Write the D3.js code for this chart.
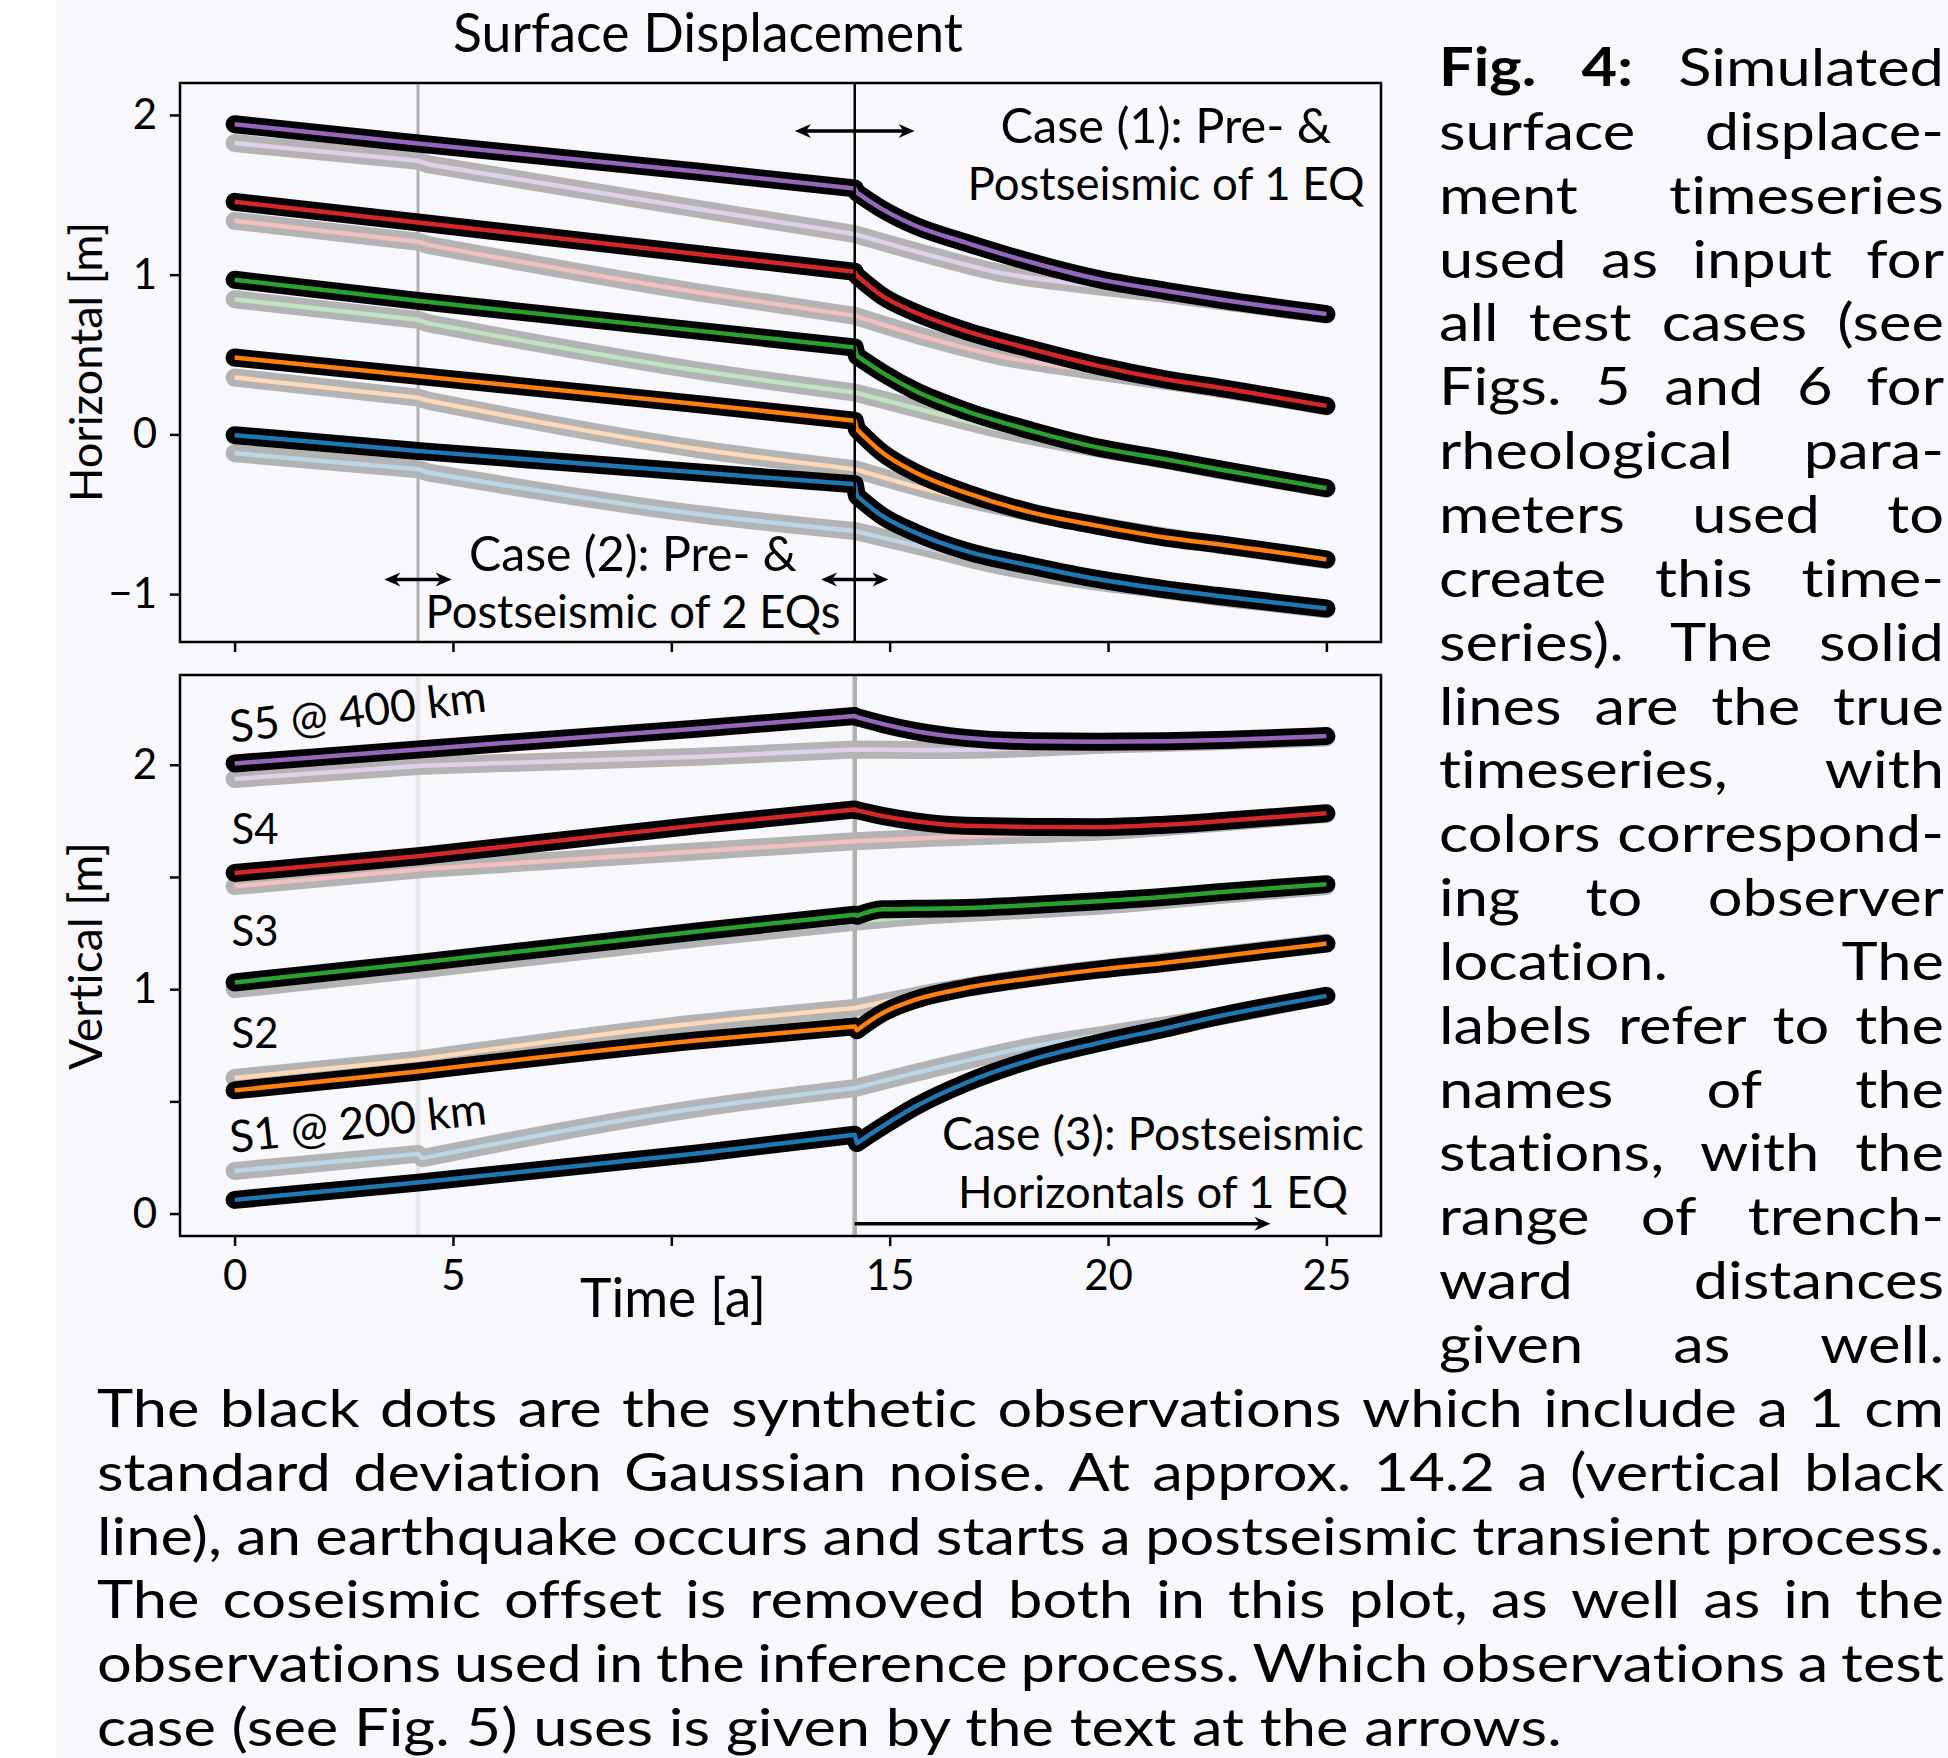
<!DOCTYPE html>
<html>
<head>
<meta charset="utf-8">
<script src="https://cdn.jsdelivr.net/npm/d3@7/dist/d3.min.js"></script>
<style>
  body { margin: 0; background: #ffffff; }
  svg { display: block; }
  text { font-family: Lato, 'Open Sans', sans-serif; fill: #000; font-variant-ligatures: none; font-feature-settings: "liga" 0; }
</style>
</head>
<body>
<svg id="fig" width="1948" height="1758"></svg>
<script>
var stations = ['S1', 'S2', 'S3', 'S4', 'S5'];
var lineColors = ['#1f77b4', '#ff7f0e', '#2ca02c', '#d62728', '#9467bd'];
var paleColors = ['#bcd6e8', '#ffd9b7', '#c0e3c0', '#f3bebf', '#dfd1eb'];

var xTicks = [0, 5, 10, 15, 20, 25];
var xTickLabels = ['0', '5', '', '15', '20', '25'];
var horTicks = [-1, 0, 1, 2];
var horTickLabels = ['\u22121', '0', '1', '2'];
var vertTicks = [0, 0.5, 1, 1.5, 2];
var vertTickLabels = ['0', '', '1', '', '2'];

var quakeTimes = [4.2, 14.2];

// true timeseries: coloured lines over black observation dots
var tMain = [0, 4.2, 10.64, 14.2, 14.25, 14.83, 15.59, 16.74, 18.26, 19.78, 21.31, 22.53, 25];
var horMain = [
    [-0.005, -0.104, -0.239, -0.312, -0.385, -0.511, -0.615, -0.730, -0.824, -0.907, -0.970, -1.012, -1.090],
    [0.481, 0.366, 0.189, 0.085, 0.032, -0.114, -0.239, -0.365, -0.490, -0.573, -0.646, -0.688, -0.783],
    [0.968, 0.836, 0.648, 0.544, 0.491, 0.387, 0.272, 0.147, 0.022, -0.083, -0.156, -0.218, -0.337],
    [1.456, 1.327, 1.128, 1.018, 0.993, 0.867, 0.763, 0.648, 0.533, 0.429, 0.345, 0.293, 0.178],
    [1.942, 1.821, 1.644, 1.540, 1.514, 1.410, 1.306, 1.201, 1.076, 0.972, 0.899, 0.846, 0.753]
];
var vertMain = [
    [0.061, 0.138, 0.269, 0.351, 0.314, 0.388, 0.477, 0.582, 0.686, 0.760, 0.825, 0.879, 0.970],
    [0.549, 0.633, 0.772, 0.834, 0.817, 0.893, 0.953, 1.005, 1.050, 1.087, 1.118, 1.146, 1.203],
    [1.030, 1.117, 1.258, 1.332, 1.327, 1.356, 1.358, 1.362, 1.375, 1.392, 1.412, 1.432, 1.468],
    [1.518, 1.592, 1.731, 1.801, 1.797, 1.772, 1.748, 1.728, 1.723, 1.722, 1.733, 1.748, 1.784],
    [2.006, 2.068, 2.162, 2.217, 2.212, 2.182, 2.150, 2.120, 2.105, 2.103, 2.105, 2.110, 2.128]
];

// two-earthquake timeseries: pale lines over grey dots
var tPaleHor = [0, 4.2, 4.45, 10.64, 14.2, 15.97, 17.5, 19.4, 21.31, 22.53, 25];
var horPale = [
    [-0.118, -0.218, -0.240, -0.500, -0.605, -0.720, -0.820, -0.910, -0.975, -1.018, -1.095],
    [0.356, 0.230, 0.210, -0.093, -0.218, -0.354, -0.448, -0.552, -0.640, -0.690, -0.787],
    [0.846, 0.717, 0.695, 0.398, 0.262, 0.137, 0.032, -0.070, -0.160, -0.222, -0.340],
    [1.337, 1.206, 1.185, 0.888, 0.742, 0.596, 0.491, 0.408, 0.335, 0.287, 0.175],
    [1.824, 1.713, 1.690, 1.410, 1.254, 1.118, 1.013, 0.940, 0.880, 0.836, 0.750]
];
var tPaleVert = [0, 4.2, 4.3, 10.64, 14.2, 15.97, 18.26, 20, 22.53, 25];
var vertPale = [
    [0.190, 0.266, 0.247, 0.470, 0.559, 0.645, 0.745, 0.800, 0.878, 0.972],
    [0.604, 0.686, 0.689, 0.849, 0.916, 0.985, 1.055, 1.095, 1.150, 1.207],
    [1.000, 1.087, 1.089, 1.228, 1.300, 1.330, 1.355, 1.375, 1.420, 1.460],
    [1.459, 1.533, 1.535, 1.615, 1.659, 1.675, 1.690, 1.705, 1.742, 1.780],
    [1.937, 1.994, 1.996, 2.036, 2.068, 2.066, 2.075, 2.090, 2.105, 2.122]
];

var stationLabels = ['S1 @ 200 km', 'S2', 'S3', 'S4', 'S5 @ 400 km'];
var stationLabelY = [0.27, 0.738, 1.191, 1.649, 2.098];
var stationLabelAngle = [-6.5, 0, 0, 0, -7];

var captionSide = [
    'Fig. 4: Simulated',
    'surface displace-',
    'ment timeseries',
    'used as input for',
    'all test cases (see',
    'Figs. 5 and 6 for',
    'rheological para-',
    'meters used to',
    'create this time-',
    'series). The solid',
    'lines are the true',
    'timeseries, with',
    'colors correspond-',
    'ing to observer',
    'location. The',
    'labels refer to the',
    'names of the',
    'stations, with the',
    'range of trench-',
    'ward distances',
    'given as well.'
];
var captionBottom = [
    'The black dots are the synthetic observations which include a 1 cm',
    'standard deviation Gaussian noise. At approx. 14.2 a (vertical black',
    'line), an earthquake occurs and starts a postseismic transient process.',
    'The coseismic offset is removed both in this plot, as well as in the',
    'observations used in the inference process. Which observations a test',
    'case (see Fig. 5) uses is given by the text at the arrows.'
];

var svg = d3.select('#fig');

svg.append('rect')
    .attr('width', 1948)
    .attr('height', 1758)
    .attr('fill', '#ffffff');
svg.append('rect')
    .attr('x', 56)
    .attr('width', 1892)
    .attr('height', 1758)
    .attr('fill', '#f8f7fc');

var x = d3.scaleLinear().domain([-1.25, 26.25]).range([180, 1381]);
var yHor = d3.scaleLinear().domain([-1.3, 2.2]).range([642, 83]);
var yVert = d3.scaleLinear().domain([-0.1, 2.4]).range([1236, 675]);

function fitText(sel, width) {
    var w = sel.node().getComputedTextLength();
    var fs = parseFloat(sel.style('font-size'));
    sel.style('font-size', (fs * width / w) + 'px');
    return sel;
}

// smooth between earthquakes, sharp corner at each earthquake and after its short step
function splitPath(y, times, vals) {
    var line = d3.line()
        .x(function(d) { return x(d[0]); })
        .y(function(d) { return y(d[1]); })
        .curve(d3.curveMonotoneX);
    var pts = times.map(function(t, j) { return [t, vals[j]]; });
    var cuts = [0];
    times.forEach(function(t, j) {
        if (quakeTimes.indexOf(t) >= 0) {
            cuts.push(j);
            if (j + 1 < times.length - 1 && times[j + 1] - t < 0.3) cuts.push(j + 1);
        }
    });
    cuts.push(times.length - 1);
    var d = '';
    for (var k = 0; k < cuts.length - 1; k++) {
        var seg = line(pts.slice(cuts[k], cuts[k + 1] + 1));
        d += (k === 0) ? seg : 'L' + seg.slice(1);
    }
    return d;
}

function seriesPaths(g, y, times, rows, colours, width, cap) {
    g.selectAll(null)
        .data(rows)
        .enter()
        .append('path')
        .attr('d', function(vals) { return splitPath(y, times, vals); })
        .attr('fill', 'none')
        .attr('stroke', function(d, i) { return typeof colours === 'string' ? colours : colours[i]; })
        .attr('stroke-width', width)
        .attr('stroke-linecap', cap)
        .attr('stroke-linejoin', 'round');
}

function quakeLine(g, y, t, colour, width) {
    var r = y.range();
    g.append('line')
        .attr('x1', x(t)).attr('x2', x(t))
        .attr('y1', r[1]).attr('y2', r[0])
        .attr('stroke', colour)
        .attr('stroke-width', width);
}

function arrowHead(g, xt, yy, dir) {
    var L = 16, w = 7, n = 11;
    g.append('path')
        .attr('d', 'M' + xt + ',' + yy +
            'L' + (xt - dir * L) + ',' + (yy - w) +
            'L' + (xt - dir * n) + ',' + yy +
            'L' + (xt - dir * L) + ',' + (yy + w) + 'Z')
        .attr('fill', '#000');
}

function arrow(g, y, t1, t2, v, both) {
    var x1 = x(t1), x2 = x(t2), yy = y(v);
    g.append('line')
        .attr('x1', both ? x1 + 8 : x1).attr('x2', x2 - 8)
        .attr('y1', yy).attr('y2', yy)
        .attr('stroke', '#000')
        .attr('stroke-width', 3.5);
    arrowHead(g, x2, yy, 1);
    if (both) arrowHead(g, x1, yy, -1);
}

function note(lines, cx, baselines, widths) {
    lines.forEach(function(s, i) {
        var t = svg.append('text')
            .attr('x', cx)
            .attr('y', baselines[i])
            .attr('text-anchor', 'middle')
            .style('font-size', '46px')
            .text(s);
        fitText(t, widths[i]);
    });
}

function drawAxes(y, yTicks, yLabels, showX) {
    var r = y.range();
    var gx = svg.append('g')
        .attr('transform', 'translate(0,' + r[0] + ')')
        .call(d3.axisBottom(x)
            .tickValues(xTicks)
            .tickSize(10)
            .tickPadding(14)
            .tickFormat(function(d, i) { return showX ? xTickLabels[i] : ''; }));
    var gy = svg.append('g')
        .attr('transform', 'translate(180,0)')
        .call(d3.axisLeft(y)
            .tickValues(yTicks)
            .tickSize(10)
            .tickPadding(13)
            .tickFormat(function(d, i) { return yLabels[i]; }));
    [gx, gy].forEach(function(a) {
        a.select('.domain').remove();
        a.selectAll('.tick line')
            .attr('stroke', '#000')
            .attr('stroke-width', 2.5);
        a.selectAll('.tick text')
            .attr('fill', '#000')
            .style('font-size', '42px')
            .style('font-family', 'Lato, sans-serif');
    });
    svg.append('rect')
        .attr('x', 180)
        .attr('y', r[1])
        .attr('width', 1201)
        .attr('height', r[0] - r[1])
        .attr('fill', 'none')
        .attr('stroke', '#000')
        .attr('stroke-width', 2.5);
}

// ---- top panel: horizontal
var gTop = svg.append('g');
quakeLine(gTop, yHor, quakeTimes[0], '#b0b0b0', 3);
seriesPaths(gTop, yHor, tPaleHor, horPale, '#b3b3b3', 18, 'round');
seriesPaths(gTop, yHor, tPaleHor, horPale, paleColors, 4.5, 'butt');
seriesPaths(gTop, yHor, tMain, horMain, '#000000', 18, 'round');
seriesPaths(gTop, yHor, tMain, horMain, lineColors, 4.5, 'butt');
quakeLine(gTop, yHor, quakeTimes[1], '#000000', 2.5);
arrow(gTop, yHor, quakeTimes[1] - 1.37, quakeTimes[1] + 1.37, 1.90, true);
arrow(gTop, yHor, quakeTimes[0] - 0.77, quakeTimes[0] + 0.77, -0.908, true);
arrow(gTop, yHor, quakeTimes[1] - 0.77, quakeTimes[1] + 0.77, -0.908, true);
drawAxes(yHor, horTicks, horTickLabels, false);

// ---- bottom panel: vertical
var gBot = svg.append('g');
quakeLine(gBot, yVert, quakeTimes[0], '#e6e6e6', 4.5);
quakeLine(gBot, yVert, quakeTimes[1], '#b0b0b0', 4.5);
seriesPaths(gBot, yVert, tPaleVert, vertPale, '#b3b3b3', 18, 'round');
seriesPaths(gBot, yVert, tPaleVert, vertPale, paleColors, 4.5, 'butt');
seriesPaths(gBot, yVert, tMain, vertMain, '#000000', 18, 'round');
seriesPaths(gBot, yVert, tMain, vertMain, lineColors, 4.5, 'butt');
arrow(gBot, yVert, quakeTimes[1], 23.72, -0.045, false);
drawAxes(yVert, vertTicks, vertTickLabels, true);

stationLabels.forEach(function(s, i) {
    var px = x(0) - 3, py = yVert(stationLabelY[i]);
    var t = svg.append('text')
        .attr('x', px)
        .attr('y', py)
        .attr('transform', 'rotate(' + stationLabelAngle[i] + ',' + px + ',' + py + ')')
        .style('font-size', '46px')
        .text(s);
    if (i === 0 || i === 4) fitText(t, 258);
    else fitText(t, 47);
});

note(['Case (1): Pre- &', 'Postseismic of 1 EQ'], 1166, [143, 200], [331, 397]);
note(['Case (2): Pre- &', 'Postseismic of 2 EQs'], 633, [571, 628], [328, 415]);
note(['Case (3): Postseismic', 'Horizontals of 1 EQ'], 1153, [1150, 1208], [422, 390]);

// titles and axis labels
fitText(svg.append('text')
    .attr('x', 708).attr('y', 52)
    .attr('text-anchor', 'middle')
    .style('font-size', '54px')
    .text('Surface Displacement'), 510);
fitText(svg.append('text')
    .attr('x', 673).attr('y', 1317)
    .attr('text-anchor', 'middle')
    .style('font-size', '50px')
    .text('Time [a]'), 186);
fitText(svg.append('text')
    .attr('transform', 'translate(102,362) rotate(-90)')
    .attr('text-anchor', 'middle')
    .style('font-size', '46px')
    .text('Horizontal [m]'), 280);
fitText(svg.append('text')
    .attr('transform', 'translate(102,956) rotate(-90)')
    .attr('text-anchor', 'middle')
    .style('font-size', '46px')
    .text('Vertical [m]'), 228);

// ---- caption, justified around the figure
var sideLeft = 1439, sideRight = 1944, bottomLeft = 97;
var capSize = 52.8, lineStep = 63.85;

function textWidth(str, bold) {
    var t = svg.append('text')
        .style('font-size', capSize + 'px')
        .style('font-weight', bold ? 'bold' : 'normal')
        .text(str);
    var w = t.node().getComputedTextLength();
    t.remove();
    return w;
}

// the caption face is wider than Lato: widen glyphs so the last line matches,
// but never so much that a justified line gets cramped
var stretch = 1494 / textWidth(captionBottom[captionBottom.length - 1]);
function maxStretch(lines, span) {
    var best = Infinity;
    lines.forEach(function(s) {
        var words = s.split(' ');
        var w = d3.sum(words, function(wd) { return textWidth(wd); });
        best = Math.min(best, (span - (words.length - 1) * 0.24 * capSize) / w);
    });
    return best;
}
stretch = Math.min(stretch, maxStretch(captionSide, sideRight - sideLeft),
    maxStretch(captionBottom.slice(0, -1), sideRight - bottomLeft));

function placeWord(str, px, py, bold) {
    var t = svg.append('text')
        .attr('transform', 'translate(' + px + ',' + py + ') scale(' + stretch + ',1)')
        .style('font-size', capSize + 'px')
        .text(str);
    if (bold) t.style('font-weight', 'bold');
    return t.node().getComputedTextLength() * stretch;
}

function captionLine(str, row, x0, x1, justify) {
    var yb = 86 + row * lineStep;
    if (!justify) {
        placeWord(str, x0, yb, false);
        return;
    }
    var words = str.split(' ');
    var widths = words.map(function(w, k) {
        return textWidth(w, row === 0 && k < 2) * stretch;
    });
    var gap = (x1 - x0 - d3.sum(widths)) / (words.length - 1);
    var pos = x0;
    words.forEach(function(w, k) {
        placeWord(w, pos, yb, row === 0 && k < 2);
        pos += widths[k] + gap;
    });
}

captionSide.forEach(function(s, i) {
    captionLine(s, i, sideLeft, sideRight, true);
});
captionBottom.forEach(function(s, i) {
    captionLine(s, captionSide.length + i, bottomLeft, sideRight, i < captionBottom.length - 1);
});
</script>
</body>
</html>
